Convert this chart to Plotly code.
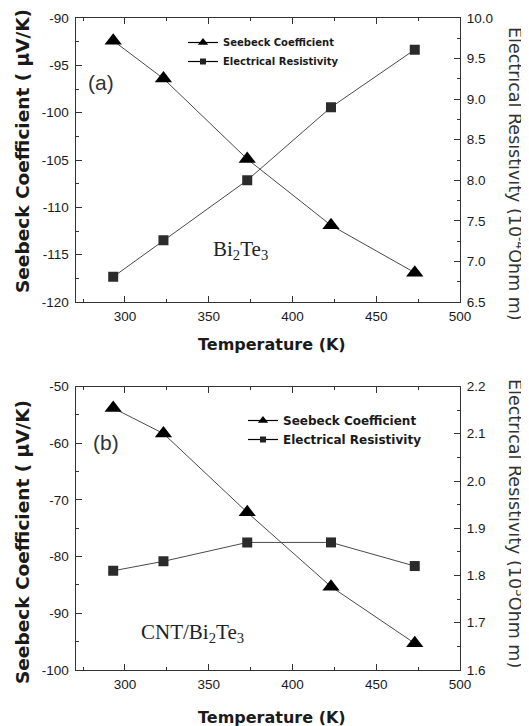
import plotly.graph_objects as go

# ---------------- data ----------------
temperature = [293, 323, 373, 423, 473]
seebeck_a = [-92.4, -96.4, -104.9, -111.9, -116.9]
resist_a = [6.81, 7.26, 8.00, 8.90, 9.61]
seebeck_b = [-53.8, -58.3, -72.2, -85.3, -95.3]
resist_b = [1.81, 1.83, 1.87, 1.87, 1.82]

x_ticks = [300, 350, 400, 450, 500]
x_ticklabels = ["300", "350", "400", "450", "500"]
ya_ticks = [-90, -95, -100, -105, -110, -115, -120]
ya_ticklabels = ["-90", "-95", "-100", "-105", "-110", "-115", "-120"]
ra_ticks = [6.5, 7.0, 7.5, 8.0, 8.5, 9.0, 9.5, 10.0]
ra_ticklabels = ["6.5", "7.0", "7.5", "8.0", "8.5", "9.0", "9.5", "10.0"]
yb_ticks = [-50, -60, -70, -80, -90, -100]
yb_ticklabels = ["-50", "-60", "-70", "-80", "-90", "-100"]
rb_ticks = [1.6, 1.7, 1.8, 1.9, 2.0, 2.1, 2.2]
rb_ticklabels = ["1.6", "1.7", "1.8", "1.9", "2.0", "2.1", "2.2"]

name_s = "Seebeck Coefficient"
name_r = "Electrical Resistivity"

# the page body has an 8px margin, so the figure is drawn 8px in from the window corner
OFF = 8
W, H = 529 - OFF, 726 - OFF
def px(x):
    return (x - OFF) / W
def py(y):
    return 1 - (y - OFF) / H

LINE = "#4a4a4a"
AX = "#333333"

fig = go.Figure()

def add_panel(xa, yl, yr, seebeck, resist, legend):
    fig.add_trace(go.Scatter(x=temperature, y=seebeck, xaxis=xa, yaxis=yl, mode="lines+markers",
                             line=dict(color=LINE, width=1),
                             marker=dict(symbol="triangle-up", size=15, color="#000000"),
                             showlegend=False, name=name_s))
    fig.add_trace(go.Scatter(x=temperature, y=resist, xaxis=xa, yaxis=yr, mode="lines+markers",
                             line=dict(color=LINE, width=1),
                             marker=dict(symbol="square", size=10, color="#2b2b2b"),
                             showlegend=False, name=name_r))
    # legend entries (smaller symbols, as in the reference legend)
    fig.add_trace(go.Scatter(x=[None], y=[None], xaxis=xa, yaxis=yl, mode="lines+markers",
                             line=dict(color="#000", width=1.2),
                             marker=dict(symbol="triangle-up", size=9, color="#000"),
                             name=name_s, legend=legend))
    fig.add_trace(go.Scatter(x=[None], y=[None], xaxis=xa, yaxis=yr, mode="lines+markers",
                             line=dict(color="#000", width=1.2),
                             marker=dict(symbol="square", size=6, color="#222"),
                             name=name_r, legend=legend))

add_panel("x", "y", "y2", seebeck_a, resist_a, "legend")
add_panel("x2", "y3", "y4", seebeck_b, resist_b, "legend2")

tickfont = dict(family="Liberation Sans, Arial", size=13.5, color="#1a1a1a")
xdom = [px(75.5), px(460)]
top_dom = [py(302), py(18)]
bot_dom = [py(670), py(386.5)]

def xaxis(anchor):
    return dict(domain=xdom, anchor=anchor, range=[270.5, 500], tickvals=x_ticks, ticktext=x_ticklabels,
                ticks="inside", ticklen=6, tickwidth=1, tickcolor=AX, mirror="ticks",
                showline=True, linecolor=AX, linewidth=1.2, showgrid=False, zeroline=False,
                tickfont=tickfont, automargin=False, ticklabelstandoff=2,
                minor=dict(tickvals=[275, 325, 375, 425, 475], ticks="inside", ticklen=3, tickcolor=AX))

def yaxis(dom, rng, tv, tt, minor, side="left", overlaying=None, anchor="x"):
    d = dict(domain=dom, range=rng, tickvals=tv, ticktext=tt, side=side, anchor=anchor,
             ticks="inside", ticklen=6, tickwidth=1, tickcolor=AX,
             showline=True, linecolor=AX, linewidth=1.2, showgrid=False, zeroline=False,
             tickfont=tickfont, automargin=False, ticklabelstandoff=3,
             minor=dict(tickvals=minor, ticks="inside", ticklen=3, tickcolor=AX))
    if overlaying:
        d["overlaying"] = overlaying
    return d

ya_minor = [-92.5, -97.5, -102.5, -107.5, -112.5, -117.5]
ra_minor = [6.75, 7.25, 7.75, 8.25, 8.75, 9.25, 9.75]
yb_minor = [-55, -65, -75, -85, -95]
rb_minor = [1.65, 1.75, 1.85, 1.95, 2.05, 2.15]

legfont_a = dict(family="DejaVu Sans", size=10, color="#1a1a1a", weight="bold")
legfont_b = dict(family="DejaVu Sans", size=12, color="#1a1a1a", weight="bold")

fig.update_layout(
    template="none",
    width=W, height=H, margin=dict(l=0, r=0, t=0, b=0, pad=0),
    paper_bgcolor="white", plot_bgcolor="white",
    xaxis=xaxis("y"),
    xaxis2=xaxis("y3"),
    yaxis=yaxis(top_dom, [-120, -90], ya_ticks, ya_ticklabels, ya_minor),
    yaxis2=yaxis(top_dom, [6.5, 10.0], ra_ticks, ra_ticklabels, ra_minor, side="right", overlaying="y"),
    yaxis3=yaxis(bot_dom, [-100, -50], yb_ticks, yb_ticklabels, yb_minor, anchor="x2"),
    yaxis4=yaxis(bot_dom, [1.6, 2.2], rb_ticks, rb_ticklabels, rb_minor, side="right", overlaying="y3", anchor="x2"),
    legend=dict(x=px(183), y=py(28), xanchor="left", yanchor="top", font=legfont_a,
                bgcolor="rgba(0,0,0,0)", itemwidth=30, tracegroupgap=0),
    legend2=dict(x=px(243), y=py(406), xanchor="left", yanchor="top", font=legfont_b,
                 bgcolor="rgba(0,0,0,0)", itemwidth=30, tracegroupgap=0),
    showlegend=True,
)

ann = []
titlefont = dict(family="DejaVu Sans", size=18.5, color="#1a1a1a", weight="bold")
xtitlefont = dict(family="DejaVu Sans", size=16, color="#1a1a1a", weight="bold")
rtitlefont = dict(family="DejaVu Sans", size=17.5, color="#333333")
C = dict(xref="paper", yref="paper", showarrow=False, xanchor="center", yanchor="middle")
for (cy_left, cy_x, cy_r, rt) in [(151, 344, 174, "Electrical Resistivity (10<sup>-4</sup>Ohm m)"),
                                  (542, 717, 523, "Electrical Resistivity (10<sup>3</sup>Ohm m)")]:
    ann.append(dict(text="Seebeck Coefficient ( μV/K)", x=px(22), y=py(cy_left),
                    textangle=-90, font=titlefont, **C))
    ann.append(dict(text="Temperature (K)", x=px(272), y=py(cy_x), font=xtitlefont, **C))
    ann.append(dict(text=rt, x=px(516), y=py(cy_r), textangle=90, font=rtitlefont, **C))

labfont = dict(family="Liberation Sans, Arial", size=21, color="#333333")
ann.append(dict(text="(a)", x=px(101), y=py(83), font=labfont, **C))
ann.append(dict(text="(b)", x=px(106), y=py(442), font=labfont, **C))
serif = dict(family="Liberation Serif, Times New Roman", size=21, color="#222222")
ann.append(dict(text="Bi<sub>2</sub>Te<sub>3</sub>", x=px(240), y=py(250), font=serif, **C))
ann.append(dict(text="CNT/Bi<sub>2</sub>Te<sub>3</sub>", x=px(192), y=py(633), font=serif, **C))
fig.update_layout(annotations=ann)

fig.write_html("out.html")
